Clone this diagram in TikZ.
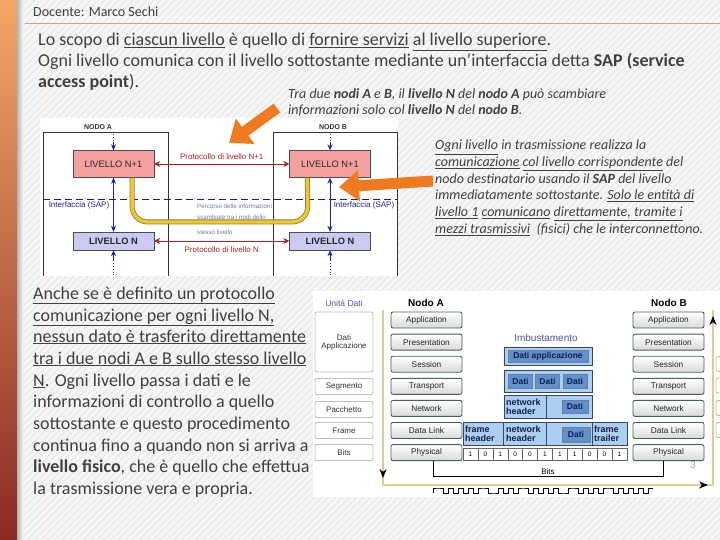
\documentclass[tikz,border=0pt]{standalone}
\usepackage{fontspec}
\setmainfont{Carlito}
\newfontfamily\arialfont{Liberation Sans}
\usetikzlibrary{arrows.meta,calc,positioning}
\definecolor{slidetext}{RGB}{64,64,64}
\definecolor{slidebg}{RGB}{246,246,246}
\definecolor{hatchcol}{RGB}{233,233,233}
\definecolor{rulecol}{RGB}{214,164,110}
\definecolor{barlight}{RGB}{242,168,104}
\definecolor{barmid}{RGB}{236,118,26}
\definecolor{bardark}{RGB}{138,42,38}
\definecolor{arroworange}{RGB}{240,122,32}
\definecolor{pinkbox}{RGB}{244,160,160}
\definecolor{lilacbox}{RGB}{202,202,242}
\definecolor{protored}{RGB}{180,30,30}
\definecolor{sapblue}{RGB}{30,30,180}
\definecolor{percorsocol}{RGB}{110,120,170}
\definecolor{pathyellow}{RGB}{242,200,40}
\definecolor{osiborder}{RGB}{70,96,96}
\definecolor{envlight}{RGB}{172,206,240}
\definecolor{envdark}{RGB}{95,145,205}
\definecolor{envborder}{RGB}{50,70,110}
\definecolor{envtext}{RGB}{20,30,80}
\definecolor{labelpurple}{RGB}{80,80,170}
\definecolor{tanline}{RGB}{226,202,146}

\newcommand{\diagfont}[1]{\arialfont\fontsize{#1}{#1}\selectfont}
\newcommand{\slidefont}[1]{\fontsize{#1}{#1}\selectfont}

\begin{document}
\begin{tikzpicture}[x=1pt,y=-1pt,>=Stealth,
    slideline/.style={anchor=base west,inner sep=0pt,text=slidetext},
    bigtxt/.style={slideline,font=\slidefont{18}},
    notetxt/.style={slideline,font=\slidefont{14}\itshape},
    parttxt/.style={slideline,font=\slidefont{14}\itshape},
    livsup/.style={draw=black!70,fill=pinkbox,minimum width=81pt,minimum height=27pt,inner sep=0pt,font=\diagfont{9.3},text=black!85},
    livinf/.style={draw=black!70,fill=lilacbox,minimum width=81pt,minimum height=18pt,inner sep=0pt,font=\diagfont{9.3}\bfseries,text=black!85},
    nodolab/.style={inner sep=0pt,font=\diagfont{7}\bfseries,text=black!80},
    saplab/.style={inner sep=0pt,font=\diagfont{8},text=sapblue},
    sapflow/.style={draw=sapblue,line width=0.8pt},
    protoarrow/.style={draw=protored,line width=0.8pt,{Stealth[length=6pt,width=6pt]}-{Stealth[length=6pt,width=6pt]}},
    protolab/.style={inner sep=0pt,font=\diagfont{8},text=protored},
    percorso/.style={anchor=base west,inner sep=0pt,font=\diagfont{6.2},text=percorsocol},
    bigarrow/.style={arroworange,line width=11pt,-{Triangle[length=20pt,width=30pt]}},
    osilayer/.style={draw=osiborder,line width=0.9pt,rounded corners=2pt,top color=white,bottom color=black!15,minimum width=71pt,minimum height=16pt,inner sep=0pt,font=\diagfont{8.3},text=black!85},
    unitbox/.style={draw=black!25,line width=0.9pt,rounded corners=2pt,fill=white,minimum width=58pt,minimum height=16pt,inner sep=0pt,font=\diagfont{8},text=black!80,align=center},
    envout/.style={draw=envborder,fill=envlight,line width=0.6pt,inner sep=0pt},
    envin/.style={draw=envborder!70,fill=envdark,inner sep=0pt,font=\diagfont{8.5}\bfseries,text=envtext},
    envlab/.style={anchor=west,inner sep=0pt,align=left,font=\diagfont{9}\bfseries,text=envtext},
    bitcell/.style={draw=black!60,fill=white,minimum width=14.9pt,minimum height=12pt,inner sep=0pt,font=\diagfont{6.5}},
    tanpath/.style={draw=tanline,line width=1.5pt}]
    \useasboundingbox (0,0) rectangle (720,540);

    % Sfondo
    \fill[slidebg] (0,0) rectangle (720,540);
    \begin{scope}
        \clip (17,0) rectangle (720,540);
        \foreach \d in {0,7,...,1267}
            \draw[hatchcol,line width=1.2pt] (\d,0) -- ++(-540,540);
    \end{scope}
    \shade[top color=barlight,middle color=barmid,bottom color=bardark] (0,0) rectangle (17,540);
    \shade[left color=black!30,right color=slidebg] (17,0) rectangle (23,540);

    % Intestazione
    \node[slideline,font=\slidefont{14}] (docente) at (33,17) {Docente: Marco Sechi};
    \draw[rulecol,line width=1.2pt] (25,23.5) -- (720,23.5);

    % Testo principale
    \node[bigtxt] (t1) at (38,46) {Lo scopo di \underline{ciascun livello} è quello di \underline{fornire servizi} \underline{al livello superiore}.};
    \node[bigtxt] (t2) at (38,67) {Ogni livello comunica con il livello sottostante mediante un’interfaccia detta \textbf{SAP (service}};
    \node[bigtxt] (t3) at (38,88) {\textbf{access point}).};
    \node[notetxt] (n1) at (288,99) {Tra due \textbf{nodi A} e \textbf{B}, il \textbf{livello N} del \textbf{nodo A} può scambiare};
    \node[notetxt] (n2) at (288,115) {informazioni solo col \textbf{livello N} del \textbf{nodo B}.};

    % Diagramma livello N / N+1
    \fill[white] (40,118) rectangle (398,276);
    \draw[black!80] (43,276) -- (43,132) -- (168,132) -- (168,276);
    \draw[black!80] (273,276) -- (273,132) -- (397,132) -- (397,276);
    \node[nodolab] (nodoA) at (98,127) {NODO A};
    \node[nodolab] (nodoB) at (333,127) {NODO B};
    \node[livsup] (supA) at (113.5,164) {LIVELLO N+1};
    \node[livsup] (supB) at (330,164) {LIVELLO N+1};
    \node[livinf] (infA) at (113.5,241) {LIVELLO N};
    \node[livinf] (infB) at (330,241) {LIVELLO N};
    \draw[sapblue!80!black,dash pattern=on 7pt off 4pt] (43,199) -- (397,199);
    \node[saplab] (sapA) at (79,205) {Interfaccia (SAP)};
    \node[saplab] (sapB) at (364,205) {Interfaccia (SAP)};
    \foreach \n in {A,B}{
        \draw[sapflow,dotted] ($(sup\n.north)+(0,-16)$) -- ($(sup\n.north)+(0,-8)$);
        \draw[sapflow,-{Stealth[length=6pt,width=5pt]}] ($(sup\n.north)+(0,-8)$) -- (sup\n.north);
        \draw[sapflow,{Stealth[length=6pt,width=5pt]}-{Stealth[length=6pt,width=5pt]}] (sup\n.south) -- (inf\n.north);
        \draw[sapflow,dotted] ($(inf\n.south)+(0,25)$) -- ($(inf\n.south)+(0,10)$);
        \draw[sapflow,-{Stealth[length=6pt,width=5pt]}] ($(inf\n.south)+(0,10)$) -- (inf\n.south);
    }
    \draw[protoarrow] (supA.east) -- (supB.west) node[midway,above=4pt,protolab] (pN1) {Protocollo di livello N+1};
    \draw[protoarrow] (infA.east) -- (infB.west) node[midway,below=5pt,protolab] (pN) {Protocollo di livello N};
    % percorso delle informazioni
    \draw[line width=5pt,yellow!45!black,rounded corners=16pt] ($(supA.south east)+(-22,0)$) -- (132,222) -- (308,222) -- ($(supB.south west)+(18,0)$);
    \draw[line width=3.4pt,pathyellow,rounded corners=16pt] ($(supA.south east)+(-22,0.5)$) -- (132,222) -- (308,222) -- ($(supB.south west)+(18,0.5)$);
    \node[percorso] (pc1) at (197,209) {Percorso delle informazioni};
    \node[percorso] (pc2) at (197,219) {scambiate tra i nodi dello};
    \node[percorso] (pc3) at (197,235) {stesso livello};

    % Frecce arancioni
    \draw[bigarrow] (277,108) -- (229,143);
    \draw[bigarrow] (433,181) -- (339,187);

    % Testo a destra
    \node[parttxt] (r1) at (435,150) {\underline{Ogni livello} in trasmissione realizza la};
    \node[parttxt] (r2) at (435,167) {\underline{comunicazione} \underline{col livello corrispondente} del};
    \node[parttxt] (r3) at (435,183.5) {nodo destinatario usando il \textbf{SAP} del livello};
    \node[parttxt] (r4) at (435,200) {immediatamente sottostante. \underline{Solo le entità di}};
    \node[parttxt] (r5) at (435,217) {\underline{livello 1} \underline{comunicano} \underline{direttamente, tramite i}};
    \node[parttxt] (r6) at (435,233.5) {\underline{mezzi trasmissivi}\ \ (fisici) che le interconnettono.};

    % Testo in basso a sinistra
    \node[bigtxt] (b1) at (33,299) {\underline{Anche se è definito un protocollo}};
    \node[bigtxt] (b2) at (33,321) {\underline{comunicazione per ogni livello N,}};
    \node[bigtxt] (b3) at (33,342) {\underline{nessun dato è trasferito direttamente}};
    \node[bigtxt] (b4) at (33,364) {\underline{tra i due nodi A e B sullo stesso livello}};
    \node[bigtxt] (b5) at (33,386) {\underline{N}. Ogni livello passa i dati e le};
    \node[bigtxt] (b6) at (33,407) {informazioni di controllo a quello};
    \node[bigtxt] (b7) at (33,429) {sottostante e questo procedimento};
    \node[bigtxt] (b8) at (33,451) {continua fino a quando non si arriva a};
    \node[bigtxt] (b9) at (33,472) {\textbf{livello fisico}, che è quello che effettua};
    \node[bigtxt] (b10) at (33,494) {la trasmissione vera e propria.};

    % Pila OSI e imbustamento
    \fill[white] (313,291) rectangle (720,497);
    \node[inner sep=0pt,font=\diagfont{8.5},text=labelpurple] (unita) at (344,303) {Unità Dati};
    \node[unitbox,minimum height=60pt] (uApp) at (344,342) {Dati\\Applicazione};
    \node[unitbox] (uSeg) at (344,386.5) {Segmento};
    \node[unitbox] (uPac) at (344,409.5) {Pacchetto};
    \node[unitbox] (uFra) at (344,430.5) {Frame};
    \node[unitbox] (uBit) at (344,452.5) {Bits};
    \foreach \yy in {364,385.5,408,430}
        \draw[black!25,line width=0.9pt,fill=white,rounded corners=2pt] (716,\yy-7.5) rectangle (730,\yy+7.5);

    \node[inner sep=0pt,font=\diagfont{10}\bfseries] (nodoAosi) at (426,303) {Nodo A};
    \node[inner sep=0pt,font=\diagfont{10}\bfseries] (nodoBosi) at (669,303) {Nodo B};
    \foreach \lab [count=\i from 0] in {Application,Presentation,Session,Transport,Network,Data Link,Physical}{
        \node[osilayer] (A\i) at (426.5,{320+22.1*\i}) {\lab};
        \node[osilayer] (B\i) at (668.5,{320+22.1*\i}) {\lab};
    }

    \node[inner sep=0pt,font=\diagfont{10},text=labelpurple] (imb) at (546,338) {Imbustamento};
    \node[envout,minimum width=88pt,minimum height=18pt] (env1) at (548,356) {};
    \node[envin,minimum width=80pt,minimum height=12pt] (datiapp) at (env1) {Dati applicazione};
    \node[envout,minimum width=88pt,minimum height=22pt] (env2) at (548,381) {};
    \foreach \xx [count=\i] in {520.5,547.5,575}
        \node[envin,minimum width=24pt,minimum height=14pt] (dati\i) at (\xx,381) {Dati};
    \node[envout,minimum width=88pt,minimum height=23pt] (env3) at (548,406.5) {};
    \draw[envborder,line width=0.6pt] (546,395) -- (546,418);
    \node[envlab] (nh3) at (506,406.5) {network\\header};
    \node[envin,minimum width=26pt,minimum height=13pt] (dati4) at (575,406.5) {Dati};
    \node[envout,minimum width=164pt,minimum height=23pt] (env4) at (545,433.5) {};
    \foreach \xx in {503,546,592}
        \draw[envborder,line width=0.6pt] (\xx,422) -- (\xx,445);
    \node[envlab] (fh) at (465,433.5) {frame\\header};
    \node[envlab] (nh4) at (506,433.5) {network\\header};
    \node[envin,minimum width=28pt,minimum height=15pt] (dati5) at (576,434.5) {Dati};
    \node[envlab] (ft) at (594,433.5) {frame\\trailer};
    \foreach \b [count=\i from 0] in {1,0,1,0,0,1,1,1,0,0,1}
        \node[bitcell] (bit\i) at ({470.45+14.9*\i},454) {\b};
    \draw[black,line width=0.8pt] ([xshift=6.5pt]A6.south) -- ++(0,15) -| ([xshift=-5.5pt]B6.south) node[pos=0.25,above=1.5pt,inner sep=0pt,font=\diagfont{8}] (bitslab) {Bits};
    \node[inner sep=0pt,font=\slidefont{11},text=black!35] (pagnum) at (693,465) {3};

    % percorso a U
    \coordinate (uTL) at (383,310);
    \coordinate (uBL) at (383,485);
    \coordinate (uBR) at (713,485);
    \coordinate (uTR) at (713,310);
    \draw[tanpath] (uTL) -- (uBL) -- (uBR) -- (uTR);
    \draw[tanpath,-{Stealth[black,length=9pt,width=7pt]}] ($(uBL)+(0,-18)$) -- ($(uBL)+(0,-7)$);
    \draw[tanpath,-{Stealth[black,length=9pt,width=7pt]}] ($(uBR)+(-18,0)$) -- ($(uBR)+(-5,0)$);
    \draw[tanpath,-{Stealth[black,length=9pt,width=7pt]}] ($(uTR)+(0,18)$) -- ($(uTR)+(0,6)$);

    % segnale
    \draw[black,line width=0.9pt] (433,493) \foreach \b [count=\i from 0] in {1,1,0,1,0,1,0,1,0,1,1,0,0,1,0,1,0,1,1,0,1,0,1,0,1,0,0,1,1,0,1,0,1,0,1,1,0,1,0,1,0,1,0,1} { -- ({433+5*\i},{493-5*\b}) -- ({438+5*\i},{493-5*\b}) };
\end{tikzpicture}
\end{document}
